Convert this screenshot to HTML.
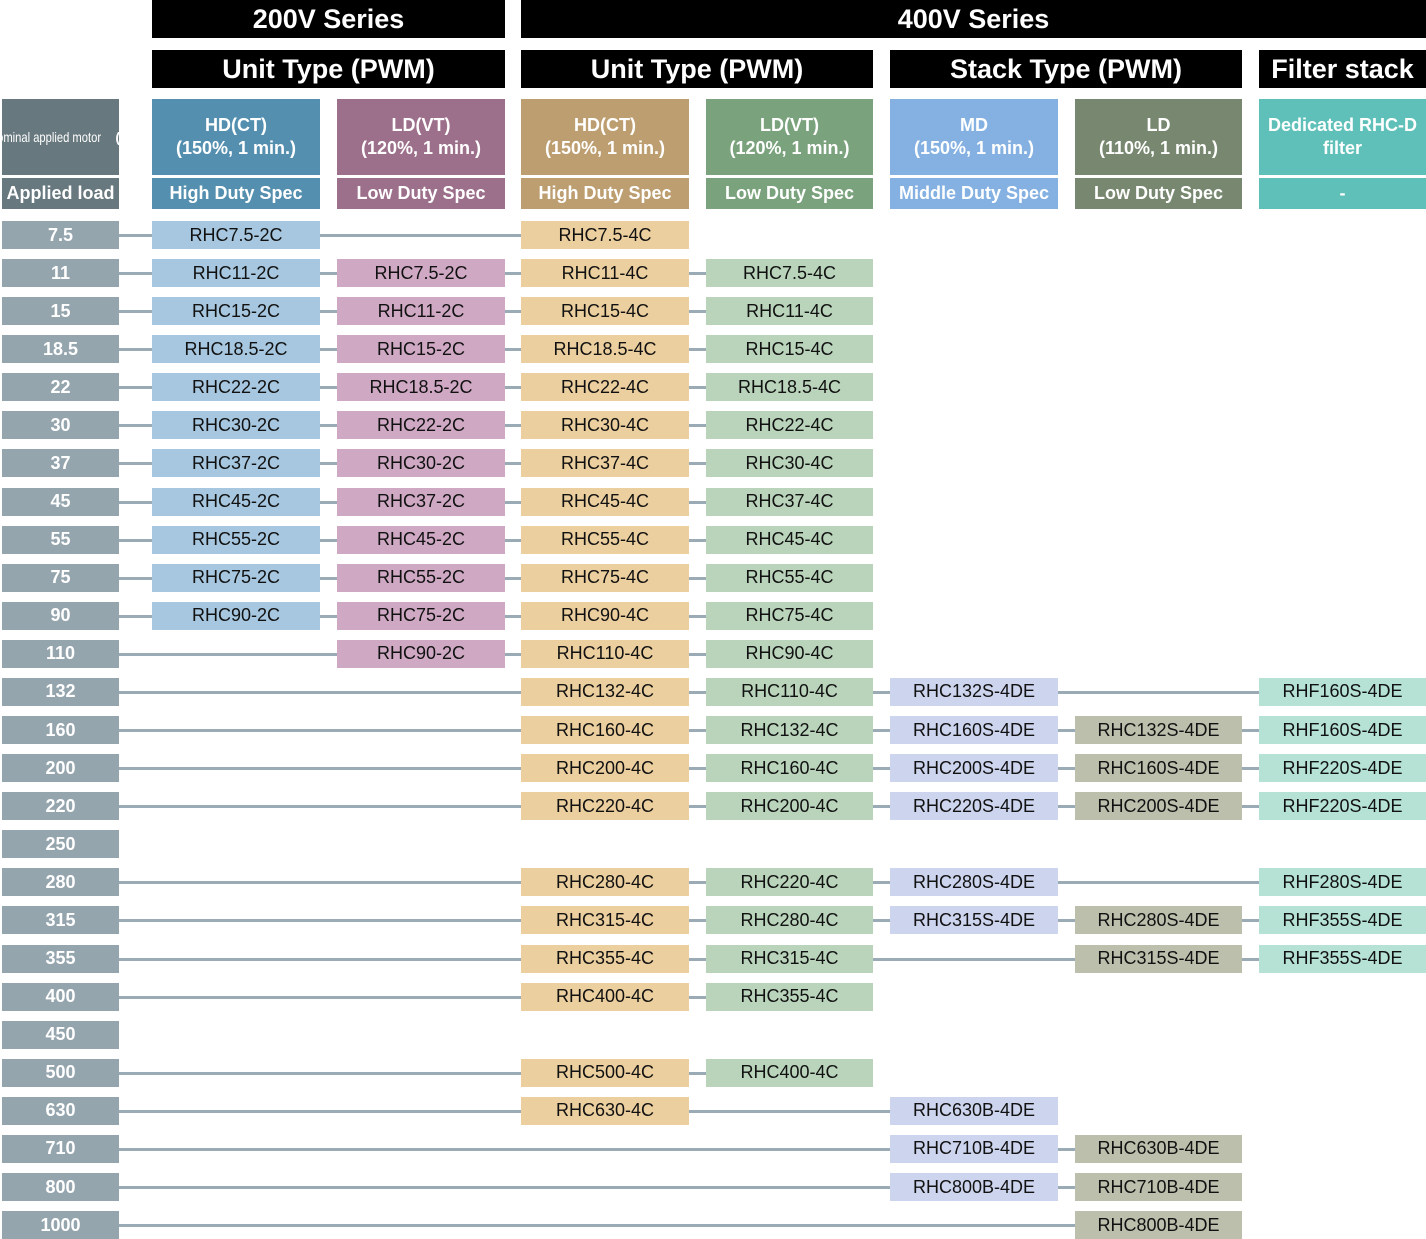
<!DOCTYPE html>
<html><head><meta charset="utf-8"><style>
body{margin:0;width:1426px;height:1239px;background:#fff;font-family:"Liberation Sans",sans-serif;position:relative;overflow:hidden}
.b{position:absolute;box-sizing:border-box;display:flex;align-items:center;justify-content:center;text-align:center}
.blk{background:#000;color:#fff;font-weight:bold;font-size:27px}
.hd{color:#fff;font-weight:bold;font-size:18px;line-height:23px}
.sub{color:#fff;font-weight:bold;font-size:18px}
.c{font-size:18px;color:#111}
.ln{position:absolute;height:3px;background:#9aabb6}
</style></head><body>
<div class="b blk" style="left:152px;top:0;width:353px;height:38px">200V Series</div>
<div class="b blk" style="left:521px;top:0;width:905px;height:38px">400V Series</div>
<div class="b blk" style="left:152px;top:50px;width:353px;height:38px">Unit Type (PWM)</div>
<div class="b blk" style="left:521px;top:50px;width:352px;height:38px">Unit Type (PWM)</div>
<div class="b blk" style="left:890px;top:50px;width:352px;height:38px">Stack Type (PWM)</div>
<div class="b blk" style="left:1259px;top:50px;width:167px;height:38px">Filter stack</div>
<div id="root"></div>
<script>
const kw=["7.5","11","15","18.5","22","30","37","45","55","75","90","110","132","160","200","220","250","280","315","355","400","450","500","630","710","800","1000"];
const hd200=["RHC7.5-2C","RHC11-2C","RHC15-2C","RHC18.5-2C","RHC22-2C","RHC30-2C","RHC37-2C","RHC45-2C","RHC55-2C","RHC75-2C","RHC90-2C",null,null,null,null,null,null,null,null,null,null,null,null,null,null,null,null];
const ld200=[null,"RHC7.5-2C","RHC11-2C","RHC15-2C","RHC18.5-2C","RHC22-2C","RHC30-2C","RHC37-2C","RHC45-2C","RHC55-2C","RHC75-2C","RHC90-2C",null,null,null,null,null,null,null,null,null,null,null,null,null,null,null];
const hd400=["RHC7.5-4C","RHC11-4C","RHC15-4C","RHC18.5-4C","RHC22-4C","RHC30-4C","RHC37-4C","RHC45-4C","RHC55-4C","RHC75-4C","RHC90-4C","RHC110-4C","RHC132-4C","RHC160-4C","RHC200-4C","RHC220-4C",null,"RHC280-4C","RHC315-4C","RHC355-4C","RHC400-4C",null,"RHC500-4C","RHC630-4C",null,null,null];
const ld400=[null,"RHC7.5-4C","RHC11-4C","RHC15-4C","RHC18.5-4C","RHC22-4C","RHC30-4C","RHC37-4C","RHC45-4C","RHC55-4C","RHC75-4C","RHC90-4C","RHC110-4C","RHC132-4C","RHC160-4C","RHC200-4C",null,"RHC220-4C","RHC280-4C","RHC315-4C","RHC355-4C",null,"RHC400-4C",null,null,null,null];
const mdStack=[null,null,null,null,null,null,null,null,null,null,null,null,"RHC132S-4DE","RHC160S-4DE","RHC200S-4DE","RHC220S-4DE",null,"RHC280S-4DE","RHC315S-4DE",null,null,null,null,"RHC630B-4DE","RHC710B-4DE","RHC800B-4DE",null];
const ldStack=[null,null,null,null,null,null,null,null,null,null,null,null,null,"RHC132S-4DE","RHC160S-4DE","RHC200S-4DE",null,null,"RHC280S-4DE","RHC315S-4DE",null,null,null,null,"RHC630B-4DE","RHC710B-4DE","RHC800B-4DE"];
const filt=[null,null,null,null,null,null,null,null,null,null,null,null,"RHF160S-4DE","RHF160S-4DE","RHF220S-4DE","RHF220S-4DE",null,"RHF280S-4DE","RHF355S-4DE","RHF355S-4DE",null,null,null,null,null,null,null];
const cols=[
 {x:2,w:117,h:"#67787e",c:"#95a5ae",t:["Nominal applied motor","(kW)"],s:"Applied load",n:"motor-kw"},
 {x:152,w:168,h:"#548fb0",c:"#a6c7df",t:["HD(CT)","(150%, 1 min.)"],s:"High Duty Spec",n:"200v-hd",d:hd200},
 {x:337,w:168,h:"#9c6f8a",c:"#cfa9c4",t:["LD(VT)","(120%, 1 min.)"],s:"Low Duty Spec",n:"200v-ld",d:ld200},
 {x:521,w:168,h:"#bd9e70",c:"#eccf9f",t:["HD(CT)","(150%, 1 min.)"],s:"High Duty Spec",n:"400v-hd",d:hd400},
 {x:706,w:167,h:"#7aa27c",c:"#b9d4bb",t:["LD(VT)","(120%, 1 min.)"],s:"Low Duty Spec",n:"400v-ld",d:ld400},
 {x:890,w:168,h:"#84b1e1",c:"#cdd5ee",t:["MD","(150%, 1 min.)"],s:"Middle Duty Spec",n:"stack-md",d:mdStack},
 {x:1075,w:167,h:"#788870",c:"#bdbfad",t:["LD","(110%, 1 min.)"],s:"Low Duty Spec",n:"stack-ld",d:ldStack},
 {x:1259,w:167,h:"#5ec0b8",c:"#b5e2d4",t:["Dedicated RHC-D","filter"],s:"-",n:"filter",d:filt}];
const root=document.getElementById('root');
function box(cls,x,y,w,h,bg,html,name){const e=document.createElement('div');e.className='b '+cls;e.style.cssText=`left:${x}px;top:${y}px;width:${w}px;height:${h}px;background:${bg}`;e.innerHTML=html;


root.appendChild(e);return e;}
cols.forEach((c,i)=>{
 const e=box('hd',c.x,99,c.w,76,c.h,c.t.join('<br>'),c.n+'-header');
 if(i==0){e.style.fontSize='14px';e.style.fontWeight='normal';e.style.lineHeight='22px';e.innerHTML='<span style="transform:scaleX(0.8);display:inline-block;white-space:nowrap">'+c.t[0]+'</span><br><b>'+c.t[1]+'</b>';}
 box('sub',c.x,178,c.w,31,c.h,c.s,c.n+'-subheader');
});
kw.forEach((k,r)=>{
 const y=221+r*38.08;
 let last=-1;for(let i=1;i<cols.length;i++)if(cols[i].d[r])last=i;
 if(last>0){const l=document.createElement('div');l.className='ln';l.style.left='119px';l.style.top=(y+13)+'px';l.style.width=(cols[last].x-119)+'px';
 
 
 root.appendChild(l);}
 const m=box('sub',cols[0].x,y,cols[0].w,28,cols[0].c,k,'motor-kw-'+k);
 for(let i=1;i<cols.length;i++){const v=cols[i].d[r];if(v)box('c',cols[i].x,y,cols[i].w,28,cols[i].c,v,cols[i].n+'-cell-'+k);}
});
</script>
</body></html>
